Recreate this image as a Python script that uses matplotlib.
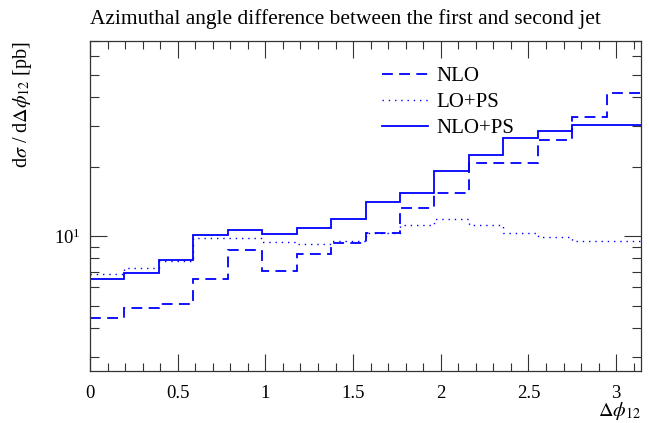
import numpy as np
import matplotlib
matplotlib.use("Agg")
import matplotlib.pyplot as plt

# Данные гистограмм (16 бинов от 0 до pi)
bin_edges = np.linspace(0, np.pi, 17)
nlo = [4.43, 4.86, 5.08, 6.51, 8.70, 7.03, 8.36, 9.36,
       10.27, 13.2, 15.3, 20.7, 20.7, 26.0, 32.9, 41.5]
lo_ps = [6.85, 7.25, 7.79, 9.84, 9.84, 9.39, 9.23, 9.54,
         10.27, 11.16, 11.85, 11.16, 10.33, 9.87, 9.52, 9.52]
nlo_ps = [6.53, 6.89, 7.87, 10.13, 10.6, 10.23, 10.86, 11.85,
          13.99, 15.3, 19.05, 22.4, 26.7, 28.5, 30.2, 30.2]
x_ticks = [0, 0.5, 1, 1.5, 2, 2.5, 3]
x_tick_labels = ["0", "0.5", "1", "1.5", "2", "2.5", "3"]

plt.rcParams['font.family'] = ['Liberation Serif', 'DejaVu Serif']
plt.rcParams['mathtext.fontset'] = 'stix'

fig = plt.figure(figsize=(6.49, 4.23), dpi=100)
ax = fig.add_axes([90 / 649, 52.3 / 423, 551 / 649, 329.7 / 423])

blue = '#0000ff'
ax.stairs(nlo, bin_edges, baseline=None, color=blue, lw=1.3, linestyle=(0, (6, 3.5)), label='NLO')
ax.stairs(lo_ps, bin_edges, baseline=None, color=blue, lw=1.0, linestyle=(0, (1, 3.5)), label='LO+PS')
ax.stairs(nlo_ps, bin_edges, baseline=None, color=blue, lw=1.3, linestyle='-', label='NLO+PS')

ax.set_yscale('log')
ax.set_xlim(0, np.pi)
ax.set_ylim(2.61, 70)

ax.set_xticks(x_ticks)
ax.set_xticklabels(x_tick_labels)
ax.xaxis.set_minor_locator(matplotlib.ticker.MultipleLocator(0.1))
ax.yaxis.set_minor_formatter(matplotlib.ticker.NullFormatter())

ax.tick_params(which='both', direction='in', top=True, right=True, labelsize=13.5, color='#333333')
ax.tick_params(axis='x', which='major', length=12, width=0.8, pad=10)
ax.tick_params(axis='x', which='minor', length=5.5, width=0.8)
ax.tick_params(axis='y', which='major', length=12.5, width=0.8, pad=7)
ax.tick_params(axis='y', which='minor', length=6.5, width=0.8)
for sp in ax.spines.values():
    sp.set_color('#333333')
    sp.set_linewidth(0.9)

# Подписи
fig.text(90 / 649, 1 - 24 / 423, 'Azimuthal angle difference between the first and second jet',
         fontsize=15.4, ha='left', va='baseline')
fig.text(22 / 649, 1 - 41 / 423, r'd$\sigma$ / d$\Delta\phi_{12}$ [pb]',
         fontsize=14.5, rotation=90, ha='center', va='top')
fig.text(641 / 649, 1 - 416 / 423, r'$\Delta\phi_{12}$', fontsize=14.5, ha='right', va='baseline')

ax.legend(loc='upper left', bbox_to_anchor=(0.53, 0.922), frameon=False, fontsize=15,
          handlelength=2.2, handletextpad=0.4, labelspacing=0.3, borderpad=0, borderaxespad=0)

fig.savefig('out.png', dpi=100)
